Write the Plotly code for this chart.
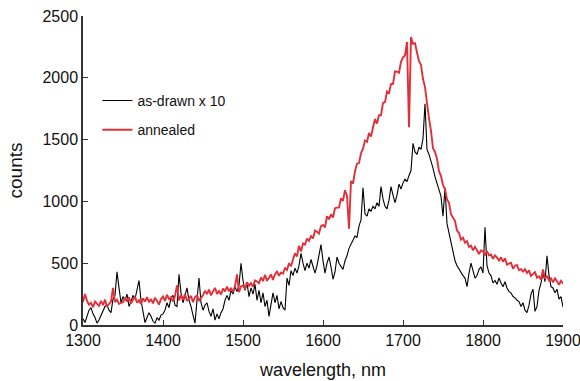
import plotly.graph_objects as go

# ---- data (2.5 nm sampling, 1300..1900 nm) ----
STEP_NM = 2.5
wavelength = [1300 + STEP_NM * i for i in range(241)]

# black trace: as-drawn sample, counts multiplied by 10
as_drawn_x10 = [
    50, 20, 70, 120, 140, 90, 60, 15, 40, 80, 120, 150, 160, 120, 100, 210, 240, 430, 300, 180,          # 1300
    230, 200, 250, 150, 190, 240, 210, 280, 360, 200, 100, 20, 60, 100, 70, 30, 15, 60, 40, 80,          # 1350
    90, 120, 180, 140, 220, 240, 160, 150, 410, 260, 180, 240, 300, 200, 150, 80, 15, 200, 380, 180,     # 1400
    120, 160, 180, 110, 70, 130, 40, 90, 50, 100, 130, 200, 240, 200, 280, 250, 310, 270, 320, 500,      # 1450
    360, 280, 340, 230, 300, 250, 330, 200, 280, 180, 260, 150, 200, 70, 150, 260, 180, 240, 130, 190,   # 1500
    140, 120, 380, 320, 440, 400, 460, 420, 480, 580, 500, 440, 500, 460, 530, 470, 420, 480, 560, 650,  # 1550
    520, 420, 500, 550, 470, 370, 430, 550, 500, 470, 450, 520, 560, 620, 650, 690, 720, 710, 800, 850,  # 1600
    1110, 900, 880, 940, 920, 960, 940, 990, 960, 1120, 1020, 960, 940, 1010, 1120, 1050, 990, 1050, 1140, 1100,  # 1650
    1150, 1180, 1160, 1210, 1250, 1470, 1400, 1380, 1440, 1420, 1510, 1790, 1420, 1380, 1330, 1270, 1200, 1150, 1100, 1040,  # 1700
    880, 1110, 820, 740, 660, 580, 520, 480, 450, 430, 400, 380, 310, 420, 500, 440, 380, 400, 450, 470,  # 1750
    420, 790, 480, 420, 400, 340, 360, 330, 380, 340, 310, 350, 300, 270, 260, 230, 220, 200, 190, 150,  # 1800
    180, 120, 100, 160, 250, 290, 110, 150, 280, 340, 420, 350, 560, 400, 310, 300, 260, 290, 210, 230,  # 1850
    145,                                                                                                  # 1900
]

# red trace: annealed sample
annealed = [
    185, 250, 195, 165, 180, 145, 190, 175, 155, 195, 160, 205, 150, 170, 190, 300, 185, 205, 170, 180,  # 1300
    185, 220, 190, 225, 175, 205, 230, 180, 200, 170, 215, 190, 225, 185, 210, 175, 220, 195, 165, 210,  # 1350
    230, 195, 245, 210, 225, 190, 235, 320, 200, 240, 205, 250, 195, 215, 235, 185, 225, 240, 200, 220,  # 1400
    240, 277, 250, 287, 240, 272, 300, 252, 275, 247, 295, 272, 310, 272, 300, 267, 315, 410, 265, 312,  # 1450
    320, 291, 347, 318, 339, 310, 361, 352, 338, 384, 355, 406, 357, 383, 409, 365, 411, 432, 398, 424,  # 1500
    415, 460, 445, 500, 475, 530, 580, 555, 640, 595, 660, 650, 700, 680, 720, 700, 765, 755, 740, 800,  # 1550
    810, 790, 880, 855, 895, 870, 945, 950, 950, 1025, 1005, 1090, 1045, 780, 1165, 1145, 1245, 1305, 1310, 1390,  # 1600
    1427, 1493, 1483, 1554, 1524, 1598, 1666, 1630, 1697, 1697, 1796, 1803, 1889, 1877, 1950, 1949, 2053, 2050, 2041, 2130,  # 1650
    2165, 2180, 2290, 1600, 2330, 2275, 2280, 2205, 2135, 2105, 1990, 1925, 1770, 1670, 1570, 1430, 1400, 1345, 1245, 1205,  # 1700
    1132, 1100, 1016, 989, 894, 868, 843, 763, 744, 690, 706, 666, 679, 632, 642, 604, 632, 605, 574, 604,  # 1750
    597, 564, 598, 564, 570, 535, 564, 545, 522, 547, 512, 540, 488, 496, 504, 456, 480, 484, 444, 452,  # 1800
    432, 452, 421, 442, 396, 414, 428, 383, 394, 366, 450, 374, 398, 362, 378, 346, 378, 354, 326, 358,  # 1850
    335,                                                                                                  # 1900
]

x_ticks = [1300, 1400, 1500, 1600, 1700, 1800, 1900]
y_ticks = [0, 500, 1000, 1500, 2000, 2500]

FONT = "Liberation Sans, Arial, Helvetica, sans-serif"

fig = go.Figure()
fig.add_trace(go.Scatter(x=wavelength, y=as_drawn_x10, mode="lines",
                         name="as-drawn x 10", legendgroup="a",
                         line=dict(color="#000000", width=1.1)))
fig.add_trace(go.Scatter(x=wavelength, y=annealed, mode="lines",
                         name="annealed", legendgroup="b",
                         line=dict(color="#e2303a", width=1.9)))

axis_common = dict(showgrid=False, zeroline=False, showline=True,
                   linecolor="#333333", linewidth=1.5,
                   ticks="inside", ticklen=5, tickwidth=1.2, tickcolor="#333333",
                   tickfont=dict(family=FONT, size=16, color="#111111"),
                   mirror=False, automargin=False, ticklabeloverflow="allow")

fig.update_xaxes(range=[1300, 1900], tickvals=x_ticks,
                 title=dict(text="wavelength, nm", font=dict(family=FONT, size=18, color="#111111")),
                 **axis_common)
fig.update_yaxes(range=[0, 2500], tickvals=y_ticks,
                 title=dict(text="counts", font=dict(family=FONT, size=19, color="#111111")),
                 **axis_common)

fig.update_layout(
    width=580, height=381,
    margin=dict(l=83, r=17, t=16, b=56),
    paper_bgcolor="white", plot_bgcolor="white",
    font=dict(family=FONT, color="#111111"),
    showlegend=True,
    legend=dict(x=0.03, y=0.777, xanchor="left", yanchor="top",
                bgcolor="rgba(0,0,0,0)", borderwidth=0,
                font=dict(family=FONT, size=14, color="#111111"),
                traceorder="grouped", tracegroupgap=8, itemwidth=30),
)

# remove the default page margin so the 580x381 figure fills the window exactly
fig.write_html("out.html",
               config={"displayModeBar": False},
               post_script="document.body.style.margin='0';document.body.style.overflow='hidden';")
